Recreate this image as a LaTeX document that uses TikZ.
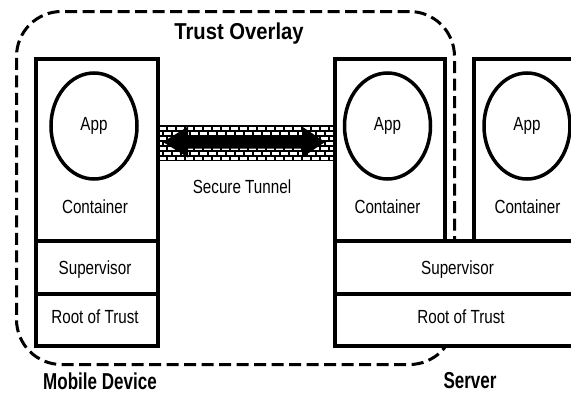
\documentclass[tikz,border=0pt]{standalone}
\usepackage{fontspec}
\setmainfont{Liberation Sans}
\newfontfamily\regfont{Liberation Sans}[FakeStretch=0.8]
\newfontfamily\headfont{Liberation Sans}[FakeStretch=0.74]
\newfontfamily\titlefont{Liberation Sans}[FakeStretch=0.88]
\usetikzlibrary{shapes.geometric}
\tikzset{
  box/.style={draw, line width=3.8pt, fill=white, inner sep=0pt, anchor=north west},
  appel/.style={draw, ellipse, line width=3.5pt, fill=white, minimum width=86pt, minimum height=106pt, inner sep=0pt,
    font=\regfont\fontsize{19}{22}\selectfont},
  lbl/.style={inner sep=0pt, font=\regfont\fontsize{19}{22}\selectfont},
  head/.style={inner sep=0pt, font=\headfont\bfseries\fontsize{23}{27}\selectfont},
  overlay/.style={draw, line width=3pt, dash pattern=on 12pt off 5.5pt, rounded corners=45pt, inner sep=0pt, anchor=north west}
}
\begin{document}
\begin{tikzpicture}[x=1pt, y=-1pt]
\useasboundingbox (0,0) rectangle (571,394);
\clip (0,0) rectangle (571,394);
\fill[white] (0,0) rectangle (571,394);
% trust overlay
\node[overlay, minimum width=438pt, minimum height=353pt] (ovl) at (15,10) {};
% tunnel band
\begin{scope}
  \clip (156,124.5) rectangle (333,160.5);
  \fill[black] (156,124.5) rectangle (333,160.5);
  \foreach \r in {0,...,6} {
    \pgfmathsetmacro\off{mod(\r,2)*4.5}
    \foreach \c in {0,...,21} {
      \fill[white] ({150+\off+\c*9}, {127+\r*5}) rectangle ++(7,3.2);
    }
  }
\end{scope}
\coordinate (tl) at (163,142);
\coordinate (tr) at (325,142);
\fill[black] (tl) -- (188,126.5) -- (188,135.5) -- (302,135.5) -- (302,126.5) -- (tr)
  -- (302,157.5) -- (302,148.5) -- (188,148.5) -- (188,157.5) -- cycle;
% mobile device
\node[box, minimum width=122pt, minimum height=182pt] (mc) at (34,57) {};
\node[box, minimum width=122pt, minimum height=53pt] (ms) at (34,239) {};
\node[box, minimum width=122pt, minimum height=52pt] (mr) at (34,292) {};
\node[appel] (mapp) at (94,126) {App};
\node[lbl] (mct) at (95,207) {Container};
\node[lbl] (mst) at (95,270) {Supervisor};
\node[lbl] (mrt) at (95,317) {Root of Trust};
% server
\node[box, minimum width=110pt, minimum height=182pt] (sc1) at (333,57) {};
\node[box, minimum width=130pt, minimum height=182pt] (sc2) at (472,57) {};
\node[box, minimum width=260pt, minimum height=53pt] (ss) at (333,239) {};
\node[box, minimum width=260pt, minimum height=52pt] (sr) at (333,292) {};
\node[appel] (sapp1) at (387.5,126) {App};
\node[appel] (sapp2) at (527,126) {App};
\node[lbl] (sct1) at (387.5,207) {Container};
\node[lbl] (sct2) at (527.5,207) {Container};
\node[lbl] (sst) at (457.5,270) {Supervisor};
\node[lbl] (srt) at (461,317) {Root of Trust};
% labels
\node[lbl] (tun) at (242,187) {Secure Tunnel};
\node[inner sep=0pt, font=\titlefont\bfseries\fontsize{23}{27}\selectfont] (ttl) at (239,34) {Trust Overlay};
\node[head] (mob) at (100,381) {Mobile Device};
\node[head] (srv) at (470,381) {Server};
\end{tikzpicture}
\end{document}
